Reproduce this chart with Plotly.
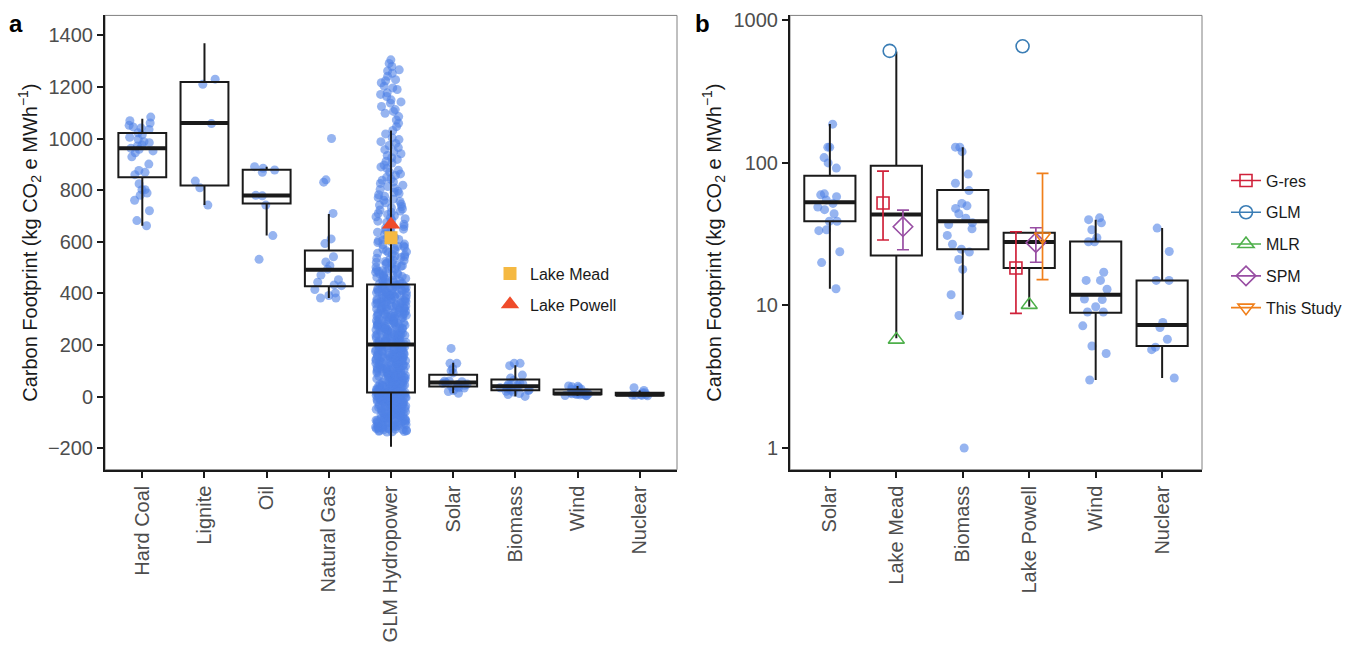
import plotly.graph_objects as go

# ---------------- Panel a data ----------------
cats_a = ["Hard Coal", "Lignite", "Oil", "Natural Gas", "GLM Hydropower",
          "Solar", "Biomass", "Wind", "Nuclear"]

hard_coal = [1083, 1069, 1060, 1051, 1045, 1041, 1035, 1022, 1015, 1005, 997, 988, 984,
             975, 971, 962, 958, 952, 945, 929, 901, 876, 869, 860, 825, 802, 802, 789,
             780, 761, 720, 682, 662]
lignite = [1230, 1210, 1058, 835, 809, 742]
oil = [891, 885, 878, 869, 780, 778, 742, 624, 532]
natural_gas = [1000, 840, 831, 710, 611, 593, 542, 522, 507, 494, 471, 453, 443, 433,
               430, 415, 402, 392, 382, 382]
glm_hydropower = [
    -137, -135, -132, -131, -128, -126, -124, -121, -119, -117, -115, -112, -110, -108,
    -105, -103, -101, -98, -96, -93, -91, -89, -86, -84, -81, -79, -77, -74, -72, -69,
    -67, -65, -62, -59, -58, -55, -52, -50, -48, -45, -43, -41, -38, -36, -33, -31, -29,
    -26, -24, -22, -19, -17, -15, -13, -11, -9, -7, -5, -4, -2, 0, 1, 3, 4, 6, 7, 8, 9,
    10, 11, 12, 13, 14, 15, 15, 16,
    -136, -134, -130, -129, -125, -123, -122, -118, -116, -114, -111, -109, -106, -104,
    -102, -99, -97, -94, -92, -90, -87, -85, -82, -80, -78, -75, -73, -70, -68, -66, -63,
    -61, -60, -56, -54, -51, -49, -46, -44, -42, -39, -37, -35, -32, -30, -27, -25, -23,
    -21, -18, -16, -14, -12, -10, -8, -6, -3, -1, 0, 2, 3, 5, 6, 8, 9, 11, 12, 13, 14, 16,
    17, 19, 22, 23, 26, 28, 29, 32, 34, 37, 38, 41, 43, 46, 47, 50, 53, 55, 58, 59, 62,
    65, 66, 69, 71, 74, 77, 78, 81, 84, 86, 89, 91, 93, 96, 99, 100, 103, 106, 108, 111,
    113, 115, 118, 121, 122, 125, 128, 130, 132, 135, 138, 140, 142, 145, 148, 150, 153,
    155, 157, 160, 163, 165, 167, 170, 173, 175, 178, 180, 182, 185, 188, 190, 193, 195,
    197, 199, 201,
    18, 20, 21, 24, 26, 28, 30, 33, 35, 36, 39, 42, 44, 45, 48, 51, 52, 54, 56, 60, 61,
    63, 66, 68, 70, 72, 75, 77, 80, 82, 85, 87, 90, 92, 94, 97, 101, 102, 105, 107, 109,
    112, 114, 117, 119, 123, 126, 129, 131, 134, 136, 139, 141, 144, 146, 149, 151, 154,
    156, 159, 161, 164, 166, 169, 171, 174, 177, 179, 181, 184, 187, 189, 192, 194, 196,
    200,
    204, 206, 210, 213, 215, 217, 221, 224, 227, 229, 232, 236, 238, 240, 244, 247, 249,
    253, 255, 258, 262, 264, 266, 270, 273, 277, 279, 281, 285, 288, 292, 294, 296, 300,
    303, 306, 310, 312, 315, 318, 322, 324, 327, 331, 333, 336, 340, 342, 345, 349, 351,
    354, 358, 360, 363, 367, 369, 372, 376, 378, 381, 385, 387, 390, 394, 396, 399, 403,
    405, 408, 412, 414, 417, 421, 423, 426, 429, 432,
    203, 205, 208, 211, 214, 216, 219, 222, 225, 228, 231, 233, 237, 239, 242, 245, 248,
    251, 254, 257, 259, 263, 265, 268, 271, 274, 278, 280, 283, 286, 289, 293, 295, 298,
    301, 304, 307, 311, 313, 317, 320, 323, 326, 329, 332, 335, 338, 341, 344, 347, 350,
    353, 356, 359, 362, 365, 368, 371, 374, 377, 380, 383, 386, 389, 392, 395, 398, 401,
    404, 407, 410, 413, 416, 419, 422, 425, 428, 431, 433,
    437, 439, 444, 446, 451, 455, 458, 462, 467, 469, 474, 479, 482, 486, 491, 496, 499,
    505, 509, 514, 518, 524, 529, 533, 539, 545, 549, 556, 561, 567, 572, 579, 584, 591,
    597, 604, 609, 617, 624, 631, 637, 645, 653, 659, 668, 676, 684, 693, 701, 710, 719,
    727, 737, 746, 756, 765, 776, 787, 796, 808, 819, 832, 843, 857, 870, 884, 897, 912,
    926, 941, 957, 973, 988, 1003, 1018, 1031, 1046, 1059, 1072, 1085, 1098, 1105, 1112,
    1124, 1137, 1142, 1150, 1163, 1171, 1177, 1190, 1196, 1203, 1216, 1224, 1228, 1241,
    1253, 1262, 1266, 1279, 1291, 1305,
    435, 441, 448, 453, 460, 465, 471, 476, 484, 488, 494, 502, 507, 516, 521, 527, 536,
    542, 552, 558, 565, 575, 582, 588, 600, 607, 614, 621, 628, 641, 649, 662, 671, 680,
    689, 697, 706, 714, 723, 732, 742, 751, 761, 771, 782, 792, 803, 814, 826, 838, 850,
    863, 877, 890, 905, 919, 934, 949, 965, 981, 996]
solar = [187, 129, 129, 109, 100, 92, 60.7, 59.7, 58, 55, 52, 49, 47, 44, 39, 39, 34,
         33.5, 23.8, 20, 13.1]
biomass = [129, 129, 120, 83.5, 72, 64, 52, 50, 48, 44, 41, 38, 37, 34.5, 31, 26.9,
           24.8, 23.7, 21, 17.9, 11.9, 8.5, 1.0]
wind = [41.2, 40, 38, 34, 29.9, 28, 28, 17.1, 15, 15, 13, 11.1, 11, 9.8, 9, 9, 7.2,
        5.2, 4.6, 3.0]
nuclear = [34.9, 23.9, 15, 15, 7.6, 7.0, 5.8, 5.1, 4.9, 3.1]

box_a_q1 = [850, 818, 748, 428, 16, 39, 25, 9, 5.2]
box_a_median = [962, 1060, 779, 492, 202, 55, 40, 12.5, 7.3]
box_a_q3 = [1021, 1219, 879, 566, 434, 85, 66, 28, 15]
box_a_lower = [662, 742, 624, 382, -194, 13, 1, 3, 3.1]
box_a_upper = [1077, 1369, 891, 708, 1031, 131, 122, 41, 24]

lake_mead_a = 616
lake_powell_a = 667

# ---------------- Panel b data ----------------
cats_b = ["Solar", "Lake Mead", "Biomass", "Lake Powell", "Wind", "Nuclear"]
box_b_q1 = [39, 22.4, 24.8, 18.3, 8.9, 5.2]
box_b_median = [52.9, 43.4, 39, 27.9, 11.9, 7.3]
box_b_q3 = [81.4, 95.5, 64.7, 32.4, 28.1, 15]
box_b_lower = [13.1, 5.9, 8.6, 9.8, 3.0, 3.1]
box_b_upper = [187.5, 604, 129, 32.4, 40, 34.9]

models = ["G-res", "GLM", "MLR", "SPM", "This Study"]
model_colors = ["#D0213A", "#3A7DB5", "#4DAF4A", "#984EA3", "#F07F1A"]
model_symbols = ["square-open", "circle-open", "triangle-up-open", "diamond-open",
                 "triangle-down-open"]
model_sizes = [12, 13, 14, 15, 14]
lake_mead_val = [52.3, 611, 5.76, 35.7, None]
lake_mead_lo = [28.8, None, None, 24.6, None]
lake_mead_hi = [87.6, None, None, 46.6, None]
lake_powell_val = [18.3, 658, 10.1, 27.6, 30.5]
lake_powell_lo = [8.8, None, None, 20.1, 15.2]
lake_powell_hi = [32.9, None, None, 35.1, 84.5]

# ---------------- styling ----------------
FONT = "Liberation Sans, Arial, sans-serif"
PT_COLOR = "rgba(80,130,230,0.6)"
BOX_COLOR = "#1a1a1a"
BOX_W = 0.77

fig = go.Figure()


def add_points(groups, positions, xa, ya):
    xs, ys = [], []
    for pos, vals in zip(positions, groups):
        xs += [pos] * len(vals)
        ys += list(vals)
    fig.add_trace(go.Box(
        x=xs, y=ys, xaxis=xa, yaxis=ya, boxpoints="all", jitter=1, pointpos=0,
        width=0.5, marker=dict(color=PT_COLOR, size=9, line=dict(width=0)),
        line=dict(width=0, color="rgba(0,0,0,0)"), fillcolor="rgba(0,0,0,0)",
        showlegend=False, hoveron="points"))


def add_boxes(pos, q1, med, q3, lo, hi, xa, ya):
    fig.add_trace(go.Box(
        x=pos, q1=q1, median=med, q3=q3, lowerfence=lo, upperfence=hi,
        xaxis=xa, yaxis=ya, width=BOX_W, whiskerwidth=0, boxpoints=False,
        fillcolor="rgba(0,0,0,0)", line=dict(color=BOX_COLOR, width=2),
        orientation="v", showlegend=False))
    fig.add_trace(go.Box(
        x=pos, q1=med, median=med, q3=med, lowerfence=med, upperfence=med,
        xaxis=xa, yaxis=ya, width=BOX_W, whiskerwidth=0, boxpoints=False,
        fillcolor="rgba(0,0,0,0)", line=dict(color=BOX_COLOR, width=4),
        orientation="v", showlegend=False))


# Panel a
groups_a = [hard_coal, lignite, oil, natural_gas, glm_hydropower, solar, biomass, wind, nuclear]
pos_a = list(range(len(cats_a)))
add_points(groups_a, pos_a, "x", "y")
add_boxes(pos_a, box_a_q1, box_a_median, box_a_q3, box_a_lower, box_a_upper, "x", "y")
glm_pos = cats_a.index("GLM Hydropower")
fig.add_trace(go.Scatter(
    x=[glm_pos], y=[lake_mead_a], mode="markers", name="Lake Mead", xaxis="x", yaxis="y",
    marker=dict(symbol="square", size=13, color="#F5B942"), legend="legend2",
    legendgroup="mead"))
fig.add_trace(go.Scatter(
    x=[glm_pos], y=[lake_powell_a], mode="markers", name="Lake Powell", xaxis="x", yaxis="y",
    marker=dict(symbol="triangle-up", size=16, color="#EF4B2A"), legend="legend2",
    legendgroup="powell"))

# Panel b
groups_b = [solar, biomass, wind, nuclear]
pos_b_pts = [cats_b.index(c) for c in ["Solar", "Biomass", "Wind", "Nuclear"]]
add_points(groups_b, pos_b_pts, "x2", "y2")
pos_b = list(range(len(cats_b)))
add_boxes(pos_b, box_b_q1, box_b_median, box_b_q3, box_b_lower, box_b_upper, "x2", "y2")

mead_i = cats_b.index("Lake Mead")
powell_i = cats_b.index("Lake Powell")
for j, m in enumerate(models):
    off = (j - (len(models) - 1) / 2) * 0.1
    xs, ys, plus, minus = [], [], [], []
    has_err = False
    for ci, v, lo, hi in [(mead_i, lake_mead_val[j], lake_mead_lo[j], lake_mead_hi[j]),
                          (powell_i, lake_powell_val[j], lake_powell_lo[j], lake_powell_hi[j])]:
        if v is None:
            continue
        xs.append(ci + off)
        ys.append(v)
        if lo is not None:
            has_err = True
            plus.append(hi - v)
            minus.append(v - lo)
        else:
            plus.append(0)
            minus.append(0)
    err = dict(type="data", symmetric=False, array=plus, arrayminus=minus,
               color=model_colors[j], thickness=1.7, width=6) if has_err else None
    fig.add_trace(go.Scatter(
        x=xs, y=ys, mode="markers", xaxis="x2", yaxis="y2", showlegend=False,
        marker=dict(symbol=model_symbols[j], size=model_sizes[j], color=model_colors[j],
                    line=dict(width=1.6, color=model_colors[j])),
        error_y=err))
    fig.add_trace(go.Scatter(
        x=[None], y=[None], mode="lines+markers", name=m, xaxis="x2", yaxis="y2",
        line=dict(color=model_colors[j], width=1.6),
        marker=dict(symbol=model_symbols[j], size=model_sizes[j], color=model_colors[j],
                    line=dict(width=1.6, color=model_colors[j])),
        legend="legend", legendgroup="m%d" % j))

W, H = 1365, 652
axis_common = dict(showgrid=False, zeroline=False, showline=True, linecolor=BOX_COLOR,
                   linewidth=2, ticks="outside", ticklen=6, tickwidth=1.5,
                   tickcolor=BOX_COLOR,
                   tickfont=dict(family=FONT, size=20, color="#4d4d4d"))
ytop = 1 - 9.5 / H
ybot = 1 - 468 / H
TITLE = "Carbon Footprint (kg CO<sub>2</sub> e MWh<sup>−1</sup>)"

fig.update_layout(
    width=W, height=H, margin=dict(l=0, r=0, t=0, b=0),
    plot_bgcolor="white", paper_bgcolor="white", boxmode="overlay",
    font=dict(family=FONT, color="#1a1a1a"),
    xaxis=dict(domain=[105 / W, 677 / W], range=[-0.6, len(cats_a) - 0.4],
               tickvals=pos_a, ticktext=cats_a, tickangle=-90, anchor="y", **axis_common),
    yaxis=dict(domain=[ybot, ytop], range=[-283, 1477],
               tickvals=[-200, 0, 200, 400, 600, 800, 1000, 1200, 1400], anchor="x",
               **axis_common),
    xaxis2=dict(domain=[790 / W, 1202 / W], range=[-0.6, len(cats_b) - 0.4],
                tickvals=pos_b, ticktext=cats_b, tickangle=-90, anchor="y2", **axis_common),
    yaxis2=dict(domain=[ybot, ytop], type="log", range=[-0.152, 3.035],
                tickvals=[1, 10, 100, 1000], ticktext=["1", "10", "100", "1000"],
                anchor="x2", **axis_common),
    legend=dict(x=1226 / W, y=1 - 159 / H, xanchor="left", yanchor="top",
                bgcolor="rgba(0,0,0,0)", font=dict(family=FONT, size=16, color="#1a1a1a"),
                tracegroupgap=8),
    legend2=dict(x=490 / W, y=1 - 253 / H, xanchor="left", yanchor="top",
                 bgcolor="rgba(0,0,0,0)", font=dict(family=FONT, size=16, color="#1a1a1a"),
                 tracegroupgap=7),
    shapes=[
        dict(type="rect", xref="x domain", yref="y domain", x0=0, x1=1, y0=0, y1=1,
             line=dict(color="#808080", width=1), layer="below"),
        dict(type="rect", xref="x2 domain", yref="y2 domain", x0=0, x1=1, y0=0, y1=1,
             line=dict(color="#808080", width=1), layer="below"),
    ],
    annotations=[
        dict(text=TITLE, xref="paper", yref="paper", x=30 / W, y=1 - 239 / H,
             textangle=-90, showarrow=False, xanchor="center", yanchor="middle",
             font=dict(family=FONT, size=20, color="#1a1a1a")),
        dict(text=TITLE, xref="paper", yref="paper", x=714 / W, y=1 - 239 / H,
             textangle=-90, showarrow=False, xanchor="center", yanchor="middle",
             font=dict(family=FONT, size=20, color="#1a1a1a")),
        dict(text="<b>a</b>", xref="paper", yref="paper", x=16 / W, y=1 - 18 / H,
             showarrow=False, xanchor="center", yanchor="middle",
             font=dict(family=FONT, size=24, color="black")),
        dict(text="<b>b</b>", xref="paper", yref="paper", x=703 / W, y=1 - 18 / H,
             showarrow=False, xanchor="center", yanchor="middle",
             font=dict(family=FONT, size=24, color="black")),
    ],
)

fig.write_html("out.html", config={"displayModeBar": False},
               post_script="document.body.style.margin='0';")
